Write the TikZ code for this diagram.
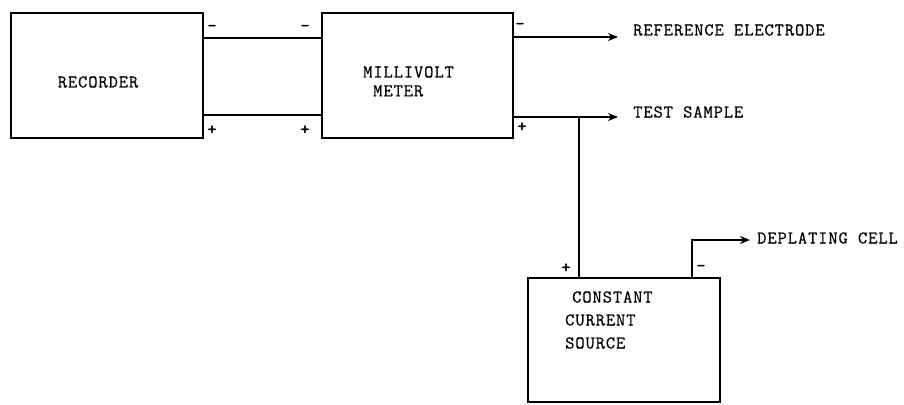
\documentclass[tikz,border=0pt]{standalone}
\usepackage{fontspec}
\setmainfont[LetterSpace=5,FakeBold=0.5]{Latin Modern Mono}
\newfontfamily\sgnfont[FakeBold=2.5]{Latin Modern Mono}
\usetikzlibrary{arrows.meta}
\begin{document}
\begin{tikzpicture}[x=1pt,y=-1pt,
  blk/.style={draw,line width=1.6pt,inner sep=0pt},
  wire/.style={line width=1.6pt},
  arr/.style={wire,-{Stealth[length=10pt,width=8pt]}},
  lbl/.style={font=\fontsize{18}{21}\selectfont,inner sep=0pt},
  sgn/.style={font=\fontsize{17}{19}\sgnfont,inner sep=0pt}]
\useasboundingbox (0,0) rectangle (904,404);
% boxes
\node[blk,minimum width=192pt,minimum height=125pt] (rec) at (107,75.5) {};
\node[blk,minimum width=191pt,minimum height=125pt] (mv) at (417.5,75.5) {};
\node[blk,minimum width=192pt,minimum height=124pt] (ccs) at (624,340) {};
% texts
\node[lbl] (trec) at (98,82) {RECORDER};
\node[lbl,anchor=west] (tmv1) at (363,72) {MILLIVOLT};
\node[lbl,anchor=west] (tmv2) at (373,91) {METER};
\node[lbl,anchor=west] (tc1) at (572,297) {CONSTANT};
\node[lbl,anchor=west] (tc2) at (565,320) {CURRENT};
\node[lbl,anchor=west] (tc3) at (565,343) {SOURCE};
\node[lbl,anchor=west] (tref) at (633,30) {REFERENCE ELECTRODE};
\node[lbl,anchor=west] (ttest) at (633,112) {TEST SAMPLE};
\node[lbl,anchor=west] (tdep) at (757,238) {DEPLATING CELL};
% coordinates
\coordinate (r1) at (203,38);
\coordinate (r2) at (203,115);
\coordinate (m1) at (322,38);
\coordinate (m2) at (322,115);
\coordinate (o1) at (513,37);
\coordinate (o2) at (513,117);
\coordinate (e1) at (618,37);
\coordinate (e2) at (618,117);
\coordinate (j) at (579,117);
\coordinate (cp) at (579,278);
\coordinate (cm) at (692,278);
\coordinate (ck) at (692,240);
\coordinate (cd) at (750,240);
% wires
\draw[wire] (r1) -- (m1);
\draw[wire] (r2) -- (m2);
\draw[arr] (o1) -- (e1);
\draw[arr] (o2) -- (e2);
\draw[wire] (j) -- (cp);
\draw[arr] (cm) -- (ck) -- (cd);
% signs
\node[sgn] (s1) at (212,28) {-};
\node[sgn] (s2) at (305,28) {-};
\node[sgn] (s3) at (212,130) {+};
\node[sgn] (s4) at (305,130) {+};
\node[sgn] (s5) at (520,26) {-};
\node[sgn] (s6) at (522,127) {+};
\node[sgn] (s7) at (566,268) {+};
\node[sgn] (s8) at (701,268) {-};
\end{tikzpicture}
\end{document}
